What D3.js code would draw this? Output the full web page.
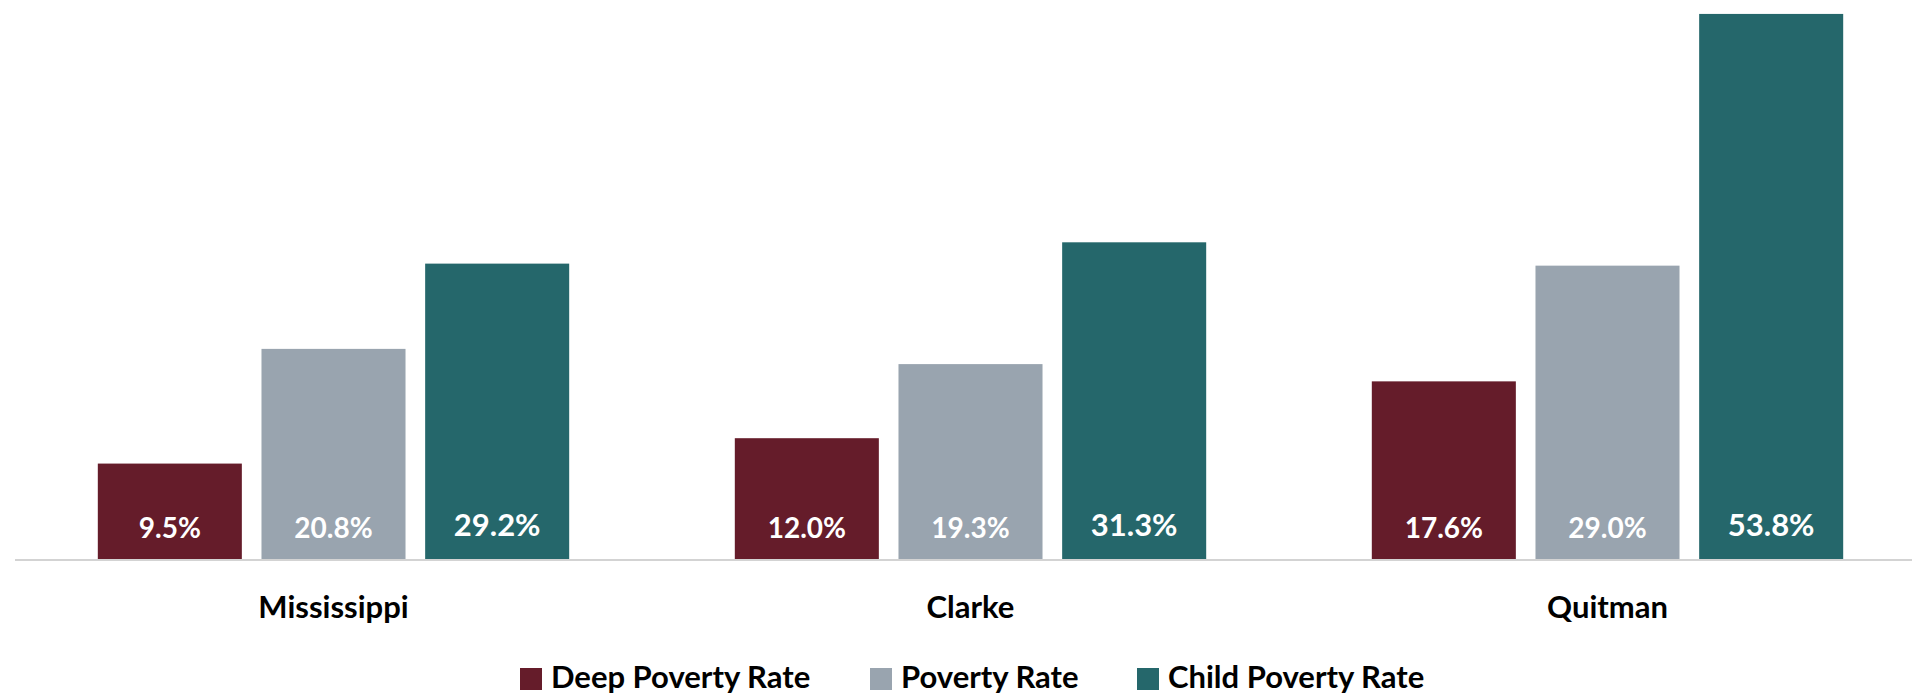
<!DOCTYPE html>
<html>
<head>
<meta charset="utf-8">
<script src="https://cdn.jsdelivr.net/npm/d3@7"></script>
<style>
  html, body { margin: 0; padding: 0; background: #fff; }
  svg { display: block; }
</style>
</head>
<body>
<svg id="chart" width="1912" height="695"></svg>
<script>
const categories = ["Mississippi", "Clarke", "Quitman"];
const seriesNames = ["Deep Poverty Rate", "Poverty Rate", "Child Poverty Rate"];
const deepPoverty = [9.5, 12.0, 17.6];
const poverty = [20.8, 19.3, 29.0];
const childPoverty = [29.2, 31.3, 53.8];
const seriesColors = ["#651c2a", "#99a4af", "#25676b"];

const seriesValues = [deepPoverty, poverty, childPoverty];
const data = categories.map((c, i) => ({
  category: c,
  values: seriesNames.map((s, j) => ({ series: s, idx: j, value: seriesValues[j][i] }))
}));

const W = 1912, H = 695;
const baseY = 560;
const svg = d3.select("#chart");
const fontFam = "Lato, 'Open Sans', sans-serif";

const x0 = d3.scaleBand().domain(categories).range([15, 1926]).paddingInner(0.26).paddingOuter(0.13);
const x1 = d3.scaleBand().domain(seriesNames).range([0, x0.bandwidth()]).paddingInner(0.12);
const y = d3.scaleLinear().domain([0, 55]).range([baseY, baseY - 55 * 10.15]);
const color = d3.scaleOrdinal().domain(seriesNames).range(seriesColors);

const groups = svg.append("g").selectAll("g").data(data).join("g")
  .attr("transform", d => `translate(${x0(d.category)},0)`);

groups.selectAll("rect").data(d => d.values).join("rect")
  .attr("x", d => x1(d.series))
  .attr("y", d => y(d.value))
  .attr("width", x1.bandwidth())
  .attr("height", d => y(0) - y(d.value))
  .attr("fill", d => color(d.series));

groups.selectAll("text.val").data(d => d.values).join("text")
  .attr("class", "val")
  .attr("x", d => x1(d.series) + x1.bandwidth() / 2)
  .attr("y", d => d.idx === 2 ? baseY - 24 : baseY - 22)
  .attr("text-anchor", "middle")
  .attr("fill", "#fff")
  .attr("font-family", fontFam)
  .attr("font-weight", "bold")
  .attr("font-size", d => d.idx === 2 ? 31 : 28)
  .text(d => d.value.toFixed(1) + "%");

// axis baseline
const xAxis = d3.axisBottom(x0).tickSize(0).tickPadding(36);
const ax = svg.append("g").attr("transform", `translate(0,${baseY})`).call(xAxis);
ax.select(".domain").attr("stroke", "#d3d3d3").attr("stroke-width", 2).attr("d", `M15,0H1912`);
ax.selectAll("text")
  .attr("font-family", fontFam)
  .attr("font-weight", "bold")
  .attr("font-size", 31)
  .attr("fill", "#000");

// legend
const legendX = [520, 870, 1137];
const legend = svg.append("g").selectAll("g").data(seriesNames).join("g")
  .attr("transform", (d, i) => `translate(${legendX[i]},0)`);
legend.append("rect").attr("x", 0).attr("y", 668).attr("width", 22).attr("height", 22)
  .attr("fill", d => color(d));
legend.append("text").attr("x", 31).attr("y", 688)
  .attr("font-family", fontFam).attr("font-weight", "bold").attr("font-size", 31)
  .attr("fill", "#000").text(d => d);
</script>
</body>
</html>
